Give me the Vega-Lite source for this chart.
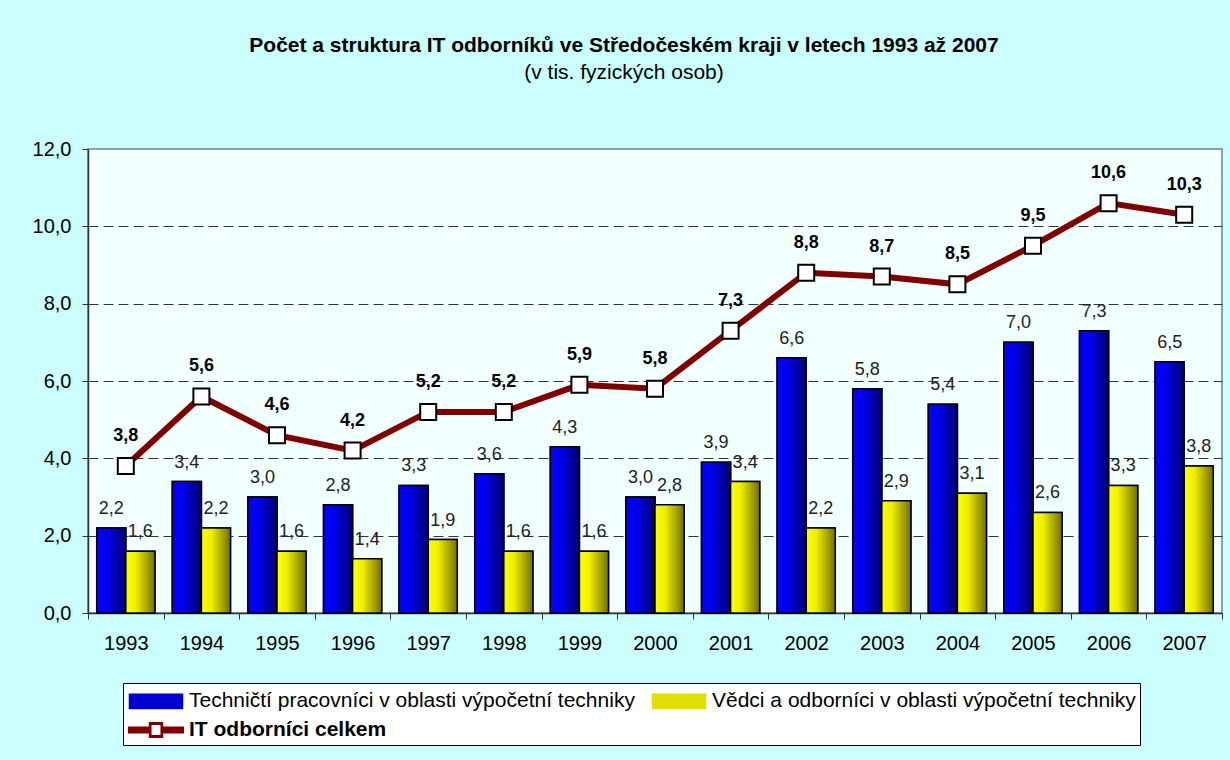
{
  "$schema": "https://vega.github.io/schema/vega-lite/v6.json",
  "width": 1134,
  "height": 464,
  "autosize": {"type": "none"},
  "padding": {"left": 88, "top": 149, "right": 8, "bottom": 147},
  "background": "#CCFFFF",
  "title": {
    "text": "Počet a struktura IT odborníků ve Středočeském kraji v letech 1993 až 2007",
    "subtitle": "(v tis. fyzických osob)",
    "anchor": "middle",
    "frame": "group",
    "dx": -31,
    "offset": 56,
    "font": "Liberation Sans",
    "fontSize": 21,
    "fontWeight": "bold",
    "color": "black",
    "subtitleFont": "Liberation Sans",
    "subtitleFontSize": 21,
    "subtitleColor": "black",
    "subtitlePadding": 6
  },
  "config": {
    "font": "Liberation Sans",
    "view": {"fill": "#F2FFFF", "stroke": "#808080", "strokeWidth": 1.5},
    "axis": {"labelColor": "black", "labelFont": "Liberation Sans", "domainColor": "#333333", "tickColor": "#333333", "tickSize": 6, "domainWidth": 1.5}
  },
  "data": {
    "values": [
      {"year": "1993", "series": "Techničtí pracovníci v oblasti výpočetní techniky", "value": 2.2},
      {"year": "1994", "series": "Techničtí pracovníci v oblasti výpočetní techniky", "value": 3.4},
      {"year": "1995", "series": "Techničtí pracovníci v oblasti výpočetní techniky", "value": 3.0},
      {"year": "1996", "series": "Techničtí pracovníci v oblasti výpočetní techniky", "value": 2.8},
      {"year": "1997", "series": "Techničtí pracovníci v oblasti výpočetní techniky", "value": 3.3},
      {"year": "1998", "series": "Techničtí pracovníci v oblasti výpočetní techniky", "value": 3.6},
      {"year": "1999", "series": "Techničtí pracovníci v oblasti výpočetní techniky", "value": 4.3},
      {"year": "2000", "series": "Techničtí pracovníci v oblasti výpočetní techniky", "value": 3.0},
      {"year": "2001", "series": "Techničtí pracovníci v oblasti výpočetní techniky", "value": 3.9},
      {"year": "2002", "series": "Techničtí pracovníci v oblasti výpočetní techniky", "value": 6.6},
      {"year": "2003", "series": "Techničtí pracovníci v oblasti výpočetní techniky", "value": 5.8},
      {"year": "2004", "series": "Techničtí pracovníci v oblasti výpočetní techniky", "value": 5.4},
      {"year": "2005", "series": "Techničtí pracovníci v oblasti výpočetní techniky", "value": 7.0},
      {"year": "2006", "series": "Techničtí pracovníci v oblasti výpočetní techniky", "value": 7.3},
      {"year": "2007", "series": "Techničtí pracovníci v oblasti výpočetní techniky", "value": 6.5},
      {"year": "1993", "series": "Vědci a odborníci v oblasti výpočetní techniky", "value": 1.6},
      {"year": "1994", "series": "Vědci a odborníci v oblasti výpočetní techniky", "value": 2.2},
      {"year": "1995", "series": "Vědci a odborníci v oblasti výpočetní techniky", "value": 1.6},
      {"year": "1996", "series": "Vědci a odborníci v oblasti výpočetní techniky", "value": 1.4},
      {"year": "1997", "series": "Vědci a odborníci v oblasti výpočetní techniky", "value": 1.9},
      {"year": "1998", "series": "Vědci a odborníci v oblasti výpočetní techniky", "value": 1.6},
      {"year": "1999", "series": "Vědci a odborníci v oblasti výpočetní techniky", "value": 1.6},
      {"year": "2000", "series": "Vědci a odborníci v oblasti výpočetní techniky", "value": 2.8},
      {"year": "2001", "series": "Vědci a odborníci v oblasti výpočetní techniky", "value": 3.4},
      {"year": "2002", "series": "Vědci a odborníci v oblasti výpočetní techniky", "value": 2.2},
      {"year": "2003", "series": "Vědci a odborníci v oblasti výpočetní techniky", "value": 2.9},
      {"year": "2004", "series": "Vědci a odborníci v oblasti výpočetní techniky", "value": 3.1},
      {"year": "2005", "series": "Vědci a odborníci v oblasti výpočetní techniky", "value": 2.6},
      {"year": "2006", "series": "Vědci a odborníci v oblasti výpočetní techniky", "value": 3.3},
      {"year": "2007", "series": "Vědci a odborníci v oblasti výpočetní techniky", "value": 3.8},
      {"year": "1993", "series": "IT odborníci celkem", "value": 3.8},
      {"year": "1994", "series": "IT odborníci celkem", "value": 5.6},
      {"year": "1995", "series": "IT odborníci celkem", "value": 4.6},
      {"year": "1996", "series": "IT odborníci celkem", "value": 4.2},
      {"year": "1997", "series": "IT odborníci celkem", "value": 5.2},
      {"year": "1998", "series": "IT odborníci celkem", "value": 5.2},
      {"year": "1999", "series": "IT odborníci celkem", "value": 5.9},
      {"year": "2000", "series": "IT odborníci celkem", "value": 5.8},
      {"year": "2001", "series": "IT odborníci celkem", "value": 7.3},
      {"year": "2002", "series": "IT odborníci celkem", "value": 8.8},
      {"year": "2003", "series": "IT odborníci celkem", "value": 8.7},
      {"year": "2004", "series": "IT odborníci celkem", "value": 8.5},
      {"year": "2005", "series": "IT odborníci celkem", "value": 9.5},
      {"year": "2006", "series": "IT odborníci celkem", "value": 10.6},
      {"year": "2007", "series": "IT odborníci celkem", "value": 10.3}
    ]
  },
  "transform": [
    {"calculate": "replace(format(datum.value, '.1f'), '.', ',')", "as": "lbl"}
  ],
  "encoding": {
    "x": {
      "field": "year",
      "type": "ordinal",
      "title": null,
      "scale": {"paddingInner": 0, "paddingOuter": 0},
      "axis": {"tickBand": "extent", "labelAngle": 0, "labelFontSize": 20, "labelPadding": 14, "grid": false}
    }
  },
  "layer": [
    {
      "transform": [{"filter": "datum.series !== 'IT odborníci celkem'"}],
      "mark": {"type": "bar", "stroke": "black", "strokeWidth": 1.5},
      "encoding": {
        "xOffset": {"field": "series", "type": "nominal", "scale": {"domain": ["Techničtí pracovníci v oblasti výpočetní techniky", "Vědci a odborníci v oblasti výpočetní techniky"], "paddingInner": 0, "paddingOuter": 0.3}},
        "y": {
          "field": "value",
          "type": "quantitative",
          "title": null,
          "scale": {"domain": [0, 12], "nice": false},
          "axis": {
            "values": [0, 2, 4, 6, 8, 10, 12],
            "labelExpr": "replace(format(datum.value, '.1f'), '.', ',')",
            "labelFontSize": 20,
            "labelPadding": 11,
            "grid": true,
            "gridColor": "#333333",
            "gridDash": [10, 5],
            "gridWidth": 1,
            "gridOpacity": {"condition": {"test": "datum.value >= 12 || datum.value <= 0", "value": 0}, "value": 1}
          }
        },
        "color": {
          "field": "series",
          "type": "nominal",
          "scale": {
            "domain": ["Techničtí pracovníci v oblasti výpočetní techniky", "Vědci a odborníci v oblasti výpočetní techniky", "IT odborníci celkem"],
            "range": ["#0000D0", "#E0E000", "#800000"]
          },
          "legend": {
            "title": null,
            "orient": "none",
            "legendX": 35,
            "legendY": 534,
            "direction": "horizontal",
            "columns": 2,
            "labelFontSize": 21,
            "labelFont": "Liberation Sans",
            "labelColor": "black",
            "labelLimit": 700,
            "labelOffset": 19,
            "symbolSize": 676,
            "symbolOffset": 15,
            "symbolType": "M-2.04,-0.55H2.04V0.55H-2.04Z",
            "symbolStrokeColor": "black",
            "symbolStrokeWidth": 1.5,
            "padding": 4,
            "columnPadding": 14,
            "rowPadding": 4,
            "strokeColor": "black",
            "fillColor": "white",
            "encode": {
              "symbols": {
                "update": {
                  "shape": [
                    {"test": "datum.value === 'IT odborníci celkem'", "value": "M-2.1,-0.22H-0.5V0.22H-2.1Z M0.5,-0.22H2.1V0.22H0.5Z M-0.5,-0.55H0.5V0.55H-0.5Z M-0.4,-0.45V0.45H0.4V-0.45Z"},
                    {"value": "M-2.04,-0.55H2.04V0.55H-2.04Z"}
                  ],
                  "stroke": {"value": "black"}
                }
              },
              "labels": {
                "update": {
                  "fontWeight": [
                    {"test": "datum.value === 'IT odborníci celkem'", "value": "bold"},
                    {"value": "normal"}
                  ]
                }
              }
            }
          }
        }
      }
    },
    {
      "transform": [{"filter": "datum.series === 'Techničtí pracovníci v oblasti výpočetní techniky'"}],
      "mark": {
        "type": "bar",
        "fill": {"gradient": "linear", "x1": 0, "y1": 0, "x2": 1, "y2": 0, "stops": [{"offset": 0, "color": "#0000FF"}, {"offset": 0.35, "color": "#0000EE"}, {"offset": 1, "color": "#000070"}]},
        "stroke": "black",
        "strokeWidth": 1.5
      },
      "encoding": {
        "xOffset": {"field": "series", "type": "nominal"},
        "y": {"field": "value", "type": "quantitative"}
      }
    },
    {
      "transform": [{"filter": "datum.series === 'Vědci a odborníci v oblasti výpočetní techniky'"}],
      "mark": {
        "type": "bar",
        "fill": {"gradient": "linear", "x1": 0, "y1": 0, "x2": 1, "y2": 0, "stops": [{"offset": 0, "color": "#FFFF00"}, {"offset": 0.35, "color": "#EEEE00"}, {"offset": 1, "color": "#707000"}]},
        "stroke": "black",
        "strokeWidth": 1.5
      },
      "encoding": {
        "xOffset": {"field": "series", "type": "nominal"},
        "y": {"field": "value", "type": "quantitative"}
      }
    },
    {
      "transform": [{"filter": "datum.series !== 'IT odborníci celkem'"}],
      "mark": {"type": "text", "baseline": "middle", "dy": -19, "fontSize": 18, "color": "#222222"},
      "encoding": {
        "xOffset": {"field": "series", "type": "nominal"},
        "y": {"field": "value", "type": "quantitative"},
        "text": {"field": "lbl"}
      }
    },
    {
      "transform": [{"filter": "datum.series === 'IT odborníci celkem'"}],
      "mark": {"type": "line", "strokeWidth": 6},
      "encoding": {
        "y": {"field": "value", "type": "quantitative"},
        "color": {"field": "series", "type": "nominal"}
      }
    },
    {
      "transform": [{"filter": "datum.series === 'IT odborníci celkem'"}],
      "mark": {"type": "point", "shape": "square", "size": 256, "filled": true, "fill": "white", "stroke": "black", "strokeWidth": 2, "opacity": 1},
      "encoding": {
        "y": {"field": "value", "type": "quantitative"}
      }
    },
    {
      "transform": [{"filter": "datum.series === 'IT odborníci celkem'"}],
      "mark": {"type": "text", "baseline": "middle", "dy": -30, "fontSize": 18, "fontWeight": "bold", "color": "black"},
      "encoding": {
        "y": {"field": "value", "type": "quantitative"},
        "text": {"field": "lbl"}
      }
    }
  ]
}
